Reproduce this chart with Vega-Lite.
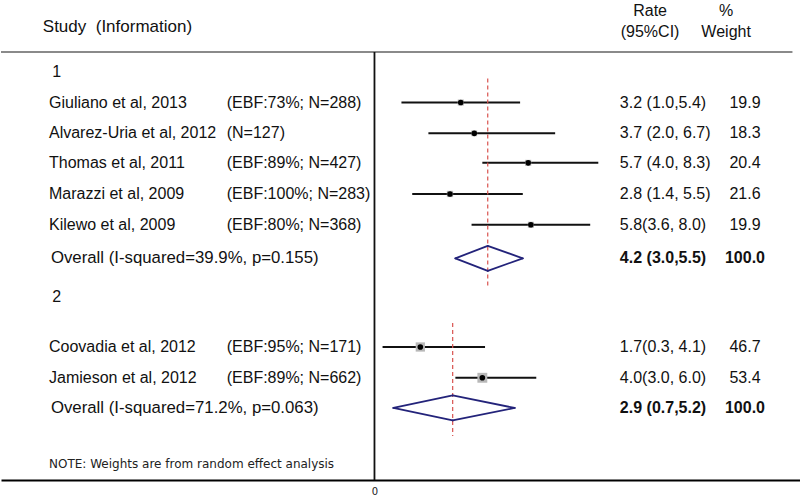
{
  "$schema": "https://vega.github.io/schema/vega-lite/v6.json",
  "width": 800,
  "height": 499,
  "autosize": {"type": "fit", "contains": "padding"},
  "padding": 0,
  "background": "white",
  "config": {
    "view": {"stroke": null},
    "font": "Liberation Sans",
    "text": {"fontSize": 16, "color": "#111111", "baseline": "middle"}
  },
  "datasets": {
    "forest": [
      {"kind": "group", "group": 1, "label": "1", "row": 1},
      {"kind": "study", "group": 1, "label": "Giuliano et al, 2013", "info": "(EBF:73%; N=288)", "rate": 3.2, "lo": 1.0, "hi": 5.4, "ci": "3.2 (1.0,5.4)", "w": 19.9, "wt": "19.9", "row": 2},
      {"kind": "study", "group": 1, "label": "Alvarez-Uria et al, 2012", "info": "(N=127)", "rate": 3.7, "lo": 2.0, "hi": 6.7, "ci": "3.7 (2.0, 6.7)", "w": 18.3, "wt": "18.3", "row": 3},
      {"kind": "study", "group": 1, "label": "Thomas et al, 2011", "info": "(EBF:89%; N=427)", "rate": 5.7, "lo": 4.0, "hi": 8.3, "ci": "5.7 (4.0, 8.3)", "w": 20.4, "wt": "20.4", "row": 3.96},
      {"kind": "study", "group": 1, "label": "Marazzi et al, 2009", "info": "(EBF:100%; N=283)", "rate": 2.8, "lo": 1.4, "hi": 5.5, "ci": "2.8 (1.4, 5.5)", "w": 21.6, "wt": "21.6", "row": 4.97},
      {"kind": "study", "group": 1, "label": "Kilewo et al, 2009", "info": "(EBF:80%; N=368)", "rate": 5.8, "lo": 3.6, "hi": 8.0, "ci": "5.8(3.6, 8.0)", "w": 19.9, "wt": "19.9", "row": 5.97},
      {"kind": "overall", "group": 1, "label": "Overall (I-squared=39.9%, p=0.155)", "rate": 4.2, "lo": 3.0, "hi": 5.5, "ci": "4.2 (3.0,5.5)", "w": 100.0, "wt": "100.0", "row": 7.06},
      {"kind": "group", "group": 2, "label": "2", "row": 8.32},
      {"kind": "study", "group": 2, "label": "Coovadia et al, 2012", "info": "(EBF:95%; N=171)", "rate": 1.7, "lo": 0.3, "hi": 4.1, "ci": "1.7(0.3, 4.1)", "w": 46.7, "wt": "46.7", "row": 9.94},
      {"kind": "study", "group": 2, "label": "Jamieson et al, 2012", "info": "(EBF:89%; N=662)", "rate": 4.0, "lo": 3.0, "hi": 6.0, "ci": "4.0(3.0, 6.0)", "w": 53.4, "wt": "53.4", "row": 10.94},
      {"kind": "overall", "group": 2, "label": "Overall (I-squared=71.2%, p=0.063)", "rate": 2.9, "lo": 0.7, "hi": 5.2, "ci": "2.9 (0.7,5.2)", "w": 100.0, "wt": "100.0", "row": 11.92}
    ],
    "header": [
      {"study": "Study\u00a0 (Information)", "rate": ["Rate", "(95%CI)"], "weight": ["%", "Weight"], "note": "NOTE: Weights are from random effect analysis"}
    ]
  },
  "data": {"name": "forest"},
  "layer": [
    {
      "data": {"name": "header"},
      "mark": {"type": "rule", "color": "#8a8a8a", "strokeWidth": 2},
      "encoding": {
        "x": {"datum": -13.85, "type": "quantitative", "title": null,
              "scale": {"domain": [-13.85, 15.78], "nice": false, "zero": false},
              "axis": {"values": [0], "title": null, "grid": false, "ticks": false, "domainColor": "#000000", "domainWidth": 2, "labelFontSize": 10, "labelFont": "DejaVu Sans", "labelColor": "#222222", "labelPadding": 6, "minExtent": 19, "maxExtent": 19}},
        "x2": {"datum": 15.5},
        "y": {"datum": 0.36, "type": "quantitative", "axis": null, "scale": {"domain": [-1.33, 14.26], "reverse": true, "nice": false, "zero": false}}
      }
    },
    {
      "data": {"name": "header"},
      "mark": {"type": "rule", "color": "#111111", "strokeWidth": 1.8},
      "encoding": {
        "x": {"datum": 0, "type": "quantitative", "title": null},
        "y": {"datum": 0.36, "type": "quantitative", "axis": null},
        "y2": {"datum": 14.26}
      }
    },
    {
      "transform": [{"filter": "datum.kind === 'study'"}],
      "mark": {"type": "rule", "color": "#111111", "strokeWidth": 2},
      "encoding": {
        "x": {"field": "lo", "type": "quantitative", "title": null},
        "x2": {"field": "hi"},
        "y": {"field": "row", "type": "quantitative", "axis": null}
      }
    },
    {
      "transform": [{"filter": "datum.kind === 'study'"}],
      "mark": {"type": "point", "shape": "square", "filled": true, "color": "#b8b8b8", "opacity": 1},
      "encoding": {
        "x": {"field": "rate", "type": "quantitative", "title": null},
        "y": {"field": "row", "type": "quantitative", "axis": null},
        "size": {"field": "w", "type": "quantitative", "legend": null, "scale": {"domain": [0, 60], "range": [0, 110], "zero": true}}
      }
    },
    {
      "transform": [{"filter": "datum.kind === 'study'"}],
      "mark": {"type": "point", "shape": "circle", "filled": true, "color": "#000000", "opacity": 1, "size": 32},
      "encoding": {
        "x": {"field": "rate", "type": "quantitative", "title": null},
        "y": {"field": "row", "type": "quantitative", "axis": null}
      }
    },
    {
      "transform": [
        {"filter": "datum.rate != null"},
        {"aggregate": [
          {"op": "min", "field": "row", "as": "r0"},
          {"op": "max", "field": "row", "as": "r1"},
          {"op": "argmax", "field": "row", "as": "pooled"}
        ], "groupby": ["group"]}
      ],
      "mark": {"type": "rule", "color": "#d9534f", "strokeWidth": 1.2, "strokeDash": [4, 3], "yOffset": -24, "y2Offset": 28},
      "encoding": {
        "x": {"field": "pooled.rate", "type": "quantitative", "title": null},
        "y": {"field": "r0", "type": "quantitative", "axis": null},
        "y2": {"field": "r1"}
      }
    },
    {
      "transform": [{"filter": "datum.kind === 'overall'"}],
      "mark": {"type": "rule", "color": "#23237a", "strokeWidth": 1.8, "strokeCap": "round", "y2Offset": -12.5},
      "encoding": {
        "x": {"field": "lo", "type": "quantitative", "title": null},
        "x2": {"field": "rate"},
        "y": {"field": "row", "type": "quantitative", "axis": null},
        "y2": {"field": "row"}
      }
    },
    {
      "transform": [{"filter": "datum.kind === 'overall'"}],
      "mark": {"type": "rule", "color": "#23237a", "strokeWidth": 1.8, "strokeCap": "round", "yOffset": -12.5},
      "encoding": {
        "x": {"field": "rate", "type": "quantitative", "title": null},
        "x2": {"field": "hi"},
        "y": {"field": "row", "type": "quantitative", "axis": null},
        "y2": {"field": "row"}
      }
    },
    {
      "transform": [{"filter": "datum.kind === 'overall'"}],
      "mark": {"type": "rule", "color": "#23237a", "strokeWidth": 1.8, "strokeCap": "round", "y2Offset": 12.5},
      "encoding": {
        "x": {"field": "hi", "type": "quantitative", "title": null},
        "x2": {"field": "rate"},
        "y": {"field": "row", "type": "quantitative", "axis": null},
        "y2": {"field": "row"}
      }
    },
    {
      "transform": [{"filter": "datum.kind === 'overall'"}],
      "mark": {"type": "rule", "color": "#23237a", "strokeWidth": 1.8, "strokeCap": "round", "yOffset": 12.5},
      "encoding": {
        "x": {"field": "rate", "type": "quantitative", "title": null},
        "x2": {"field": "lo"},
        "y": {"field": "row", "type": "quantitative", "axis": null},
        "y2": {"field": "row"}
      }
    },
    {
      "transform": [{"filter": "datum.kind === 'group'"}],
      "mark": {"type": "text", "align": "left"},
      "encoding": {
        "x": {"datum": -11.95, "type": "quantitative", "title": null},
        "y": {"field": "row", "type": "quantitative", "axis": null},
        "text": {"field": "label"}
      }
    },
    {
      "transform": [{"filter": "datum.kind === 'study'"}],
      "mark": {"type": "text", "align": "left"},
      "encoding": {
        "x": {"datum": -12.07, "type": "quantitative", "title": null},
        "y": {"field": "row", "type": "quantitative", "axis": null},
        "text": {"field": "label"}
      }
    },
    {
      "transform": [{"filter": "datum.kind === 'study'"}],
      "mark": {"type": "text", "align": "left"},
      "encoding": {
        "x": {"datum": -5.48, "type": "quantitative", "title": null},
        "y": {"field": "row", "type": "quantitative", "axis": null},
        "text": {"field": "info"}
      }
    },
    {
      "transform": [{"filter": "datum.kind === 'overall'"}],
      "mark": {"type": "text", "align": "left", "fontSize": 16.8},
      "encoding": {
        "x": {"datum": -12.0, "type": "quantitative", "title": null},
        "y": {"field": "row", "type": "quantitative", "axis": null},
        "text": {"field": "label"}
      }
    },
    {
      "transform": [{"filter": "datum.kind === 'study'"}],
      "mark": {"type": "text", "align": "left"},
      "encoding": {
        "x": {"datum": 9.1, "type": "quantitative", "title": null},
        "y": {"field": "row", "type": "quantitative", "axis": null},
        "text": {"field": "ci"}
      }
    },
    {
      "transform": [{"filter": "datum.kind === 'overall'"}],
      "mark": {"type": "text", "align": "left", "fontWeight": "bold"},
      "encoding": {
        "x": {"datum": 9.1, "type": "quantitative", "title": null},
        "y": {"field": "row", "type": "quantitative", "axis": null},
        "text": {"field": "ci"}
      }
    },
    {
      "transform": [{"filter": "datum.kind === 'study'"}],
      "mark": {"type": "text", "align": "center"},
      "encoding": {
        "x": {"datum": 13.74, "type": "quantitative", "title": null},
        "y": {"field": "row", "type": "quantitative", "axis": null},
        "text": {"field": "wt"}
      }
    },
    {
      "transform": [{"filter": "datum.kind === 'overall'"}],
      "mark": {"type": "text", "align": "center", "fontWeight": "bold"},
      "encoding": {
        "x": {"datum": 13.74, "type": "quantitative", "title": null},
        "y": {"field": "row", "type": "quantitative", "axis": null},
        "text": {"field": "wt"}
      }
    },
    {
      "data": {"name": "header"},
      "mark": {"type": "text", "align": "left", "fontSize": 17},
      "encoding": {
        "x": {"datum": -12.3, "type": "quantitative", "title": null},
        "y": {"datum": -0.45, "type": "quantitative", "axis": null},
        "text": {"field": "study"}
      }
    },
    {
      "data": {"name": "header"},
      "mark": {"type": "text", "align": "center", "lineHeight": 21},
      "encoding": {
        "x": {"datum": 10.22, "type": "quantitative", "title": null},
        "y": {"datum": -0.97, "type": "quantitative", "axis": null},
        "text": {"field": "rate"}
      }
    },
    {
      "data": {"name": "header"},
      "mark": {"type": "text", "align": "center", "lineHeight": 21},
      "encoding": {
        "x": {"datum": 13.04, "type": "quantitative", "title": null},
        "y": {"datum": -0.97, "type": "quantitative", "axis": null},
        "text": {"field": "weight"}
      }
    },
    {
      "data": {"name": "header"},
      "mark": {"type": "text", "align": "left", "font": "DejaVu Sans", "fontSize": 12, "color": "#222222"},
      "encoding": {
        "x": {"datum": -12.07, "type": "quantitative", "title": null},
        "y": {"datum": 13.74, "type": "quantitative", "axis": null},
        "text": {"field": "note"}
      }
    }
  ]
}
